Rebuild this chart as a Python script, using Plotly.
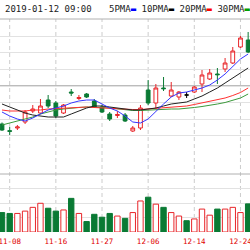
import plotly.graph_objects as go

dates = ["11-07", "11-08", "11-09", "11-12", "11-13", "11-14", "11-15", "11-16",
         "11-19", "11-20", "11-21", "11-22", "11-23", "11-27", "11-28", "11-29",
         "11-30", "12-03", "12-04", "12-06", "12-07", "12-10", "12-11", "12-12",
         "12-13", "12-14", "12-17", "12-18", "12-19", "12-20", "12-21", "12-24", "12-25"]
opens = [7.60, 6.93, 7.20, 7.80, 8.90, 8.70, 10.00, 9.70, 8.70, 10.80, 10.15, 10.60, 9.90,
         9.30, 8.60, 8.45, 8.50, 6.90, 7.20, 11.00, 9.70, 11.20, 10.40, 10.30, 10.50, 10.80,
         11.60, 12.10, 12.60, 13.10, 13.70, 15.30, 16.00]
closes = [7.00, 6.87, 7.30, 8.80, 9.10, 9.40, 9.40, 8.40, 9.50, 10.70, 10.25, 10.30, 9.30,
          8.80, 8.10, 8.55, 7.90, 7.20, 9.20, 9.70, 11.20, 11.13, 11.00, 10.80, 10.50, 11.30,
          12.50, 12.70, 12.53, 13.70, 14.90, 16.20, 14.80]
highs = [7.75, 7.30, 7.50, 9.00, 9.50, 10.10, 10.50, 9.90, 9.60, 11.10, 10.50, 10.70, 10.10,
         9.50, 8.80, 8.90, 8.70, 7.40, 9.50, 12.00, 11.60, 12.30, 11.80, 10.90, 10.80, 11.40,
         13.00, 13.10, 13.20, 14.20, 15.30, 16.40, 16.80]
lows = [6.90, 6.50, 7.00, 7.60, 8.70, 8.60, 9.20, 8.20, 8.60, 10.40, 10.00, 10.20, 9.20,
        8.70, 7.90, 8.20, 7.80, 6.80, 7.00, 9.50, 9.20, 10.90, 10.30, 10.00, 10.20, 10.70,
        10.80, 12.00, 11.60, 12.80, 13.60, 15.20, 14.70]
ma5 = [8.8, 8.4, 8.1, 7.9, 8.2, 8.6, 9.0, 9.2, 9.4, 9.7, 9.9, 10.0, 10.0, 9.6, 9.2, 8.9, 8.4,
       7.8, 7.7, 8.1, 8.8, 9.6, 10.3, 10.7, 10.8, 11.0, 11.2, 11.5, 12.0, 12.6, 13.3, 14.1, 14.6]
ma10 = [9.6, 9.3, 9.0, 8.7, 8.5, 8.4, 8.3, 8.3, 8.3, 8.6, 8.9, 9.2, 9.4, 9.4, 9.3, 9.2, 9.1,
        9.0, 9.0, 9.1, 9.2, 9.4, 9.6, 9.7, 9.8, 10.1, 10.4, 10.8, 11.2, 11.7, 12.2, 12.7, 13.2]
ma20 = [9.0, 8.9, 8.9, 8.9, 9.0, 9.0, 9.1, 9.15, 9.2, 9.25, 9.3, 9.3, 9.25, 9.2, 9.2, 9.15,
        9.1, 9.05, 9.05, 9.1, 9.15, 9.2, 9.25, 9.3, 9.4, 9.55, 9.7, 9.85, 10.0, 10.2, 10.45,
        10.75, 11.2]
ma30 = [7.5, 7.7, 7.9, 8.1, 8.3, 8.6, 8.8, 9.0, 9.1, 9.2, 9.25, 9.3, 9.3, 9.25, 9.2, 9.1,
        9.0, 8.95, 8.95, 9.0, 9.05, 9.05, 9.1, 9.1, 9.15, 9.25, 9.35, 9.45, 9.6, 9.75, 9.95,
        10.2, 10.6]
volume = [67, 64, 64, 72, 85, 99, 82, 72, 76, 116, 64, 36, 61, 51, 64, 55, 47, 67, 107, 120,
          96, 85, 67, 55, 39, 45, 79, 58, 79, 79, 85, 67, 97]
tick_dates = ["11-08", "11-16", "11-27", "12-06", "12-14", "12-24"]
price_grid = [16.4, 14.74, 13.08, 9.76, 8.1, 6.44]
vol_grid = [50, 100, 150]

RED = "#e8262a"
GREEN = "#0a7a34"
MONO = "DejaVu Sans Mono"

n = len(dates)
doji = [i for i in range(n) if opens[i] == closes[i]]
main_o = [None if i in doji else opens[i] for i in range(n)]
main_c = [None if i in doji else closes[i] for i in range(n)]
main_h = [None if i in doji else highs[i] for i in range(n)]
main_l = [None if i in doji else lows[i] for i in range(n)]

up = [c > o for o, c in zip(opens, closes)]
bar_fill = ["white" if u else GREEN for u in up]
bar_line = [RED if u else GREEN for u in up]

fig = go.Figure()
fig.add_trace(go.Bar(x=dates, y=volume, yaxis="y2",
                     marker=dict(color=bar_fill, line=dict(color=bar_line, width=1)),
                     hoverinfo="skip"))
fig.add_trace(go.Candlestick(x=dates, open=main_o, high=main_h, low=main_l, close=main_c,
                             increasing=dict(line=dict(color=RED, width=1), fillcolor="white"),
                             decreasing=dict(line=dict(color=GREEN, width=1), fillcolor=GREEN),
                             whiskerwidth=0))
fig.add_trace(go.Candlestick(x=[dates[i] for i in doji], open=[opens[i] for i in doji],
                             high=[highs[i] for i in doji], low=[lows[i] for i in doji],
                             close=[closes[i] for i in doji],
                             increasing=dict(line=dict(color="black", width=1), fillcolor="black"),
                             decreasing=dict(line=dict(color="black", width=1), fillcolor="black")))
for vals, col in [(ma30, "#3c9a3c"), (ma20, "#ff3030"), (ma10, "#222222"), (ma5, "#3535ff")]:
    fig.add_trace(go.Scatter(x=dates, y=vals, mode="lines",
                             line=dict(color=col, width=1), hoverinfo="skip"))

shapes = []
for t in tick_dates:
    xi = dates.index(t)
    shapes.append(dict(type="line", xref="x", yref="paper", x0=xi, x1=xi, y0=0, y1=1,
                       line=dict(color="#cccccc", width=1, dash="4px,3px"), layer="below"))
shapes.append(dict(type="line", xref="paper", yref="paper", x0=0, x1=1, y0=1, y1=1,
                   line=dict(color="#b0b0b0", width=1), layer="below"))
shapes.append(dict(type="line", xref="paper", yref="y", x0=0, x1=1, y0=11.42, y1=11.42,
                   line=dict(color="#a0a0a0", width=1), layer="below"))
shapes.append(dict(type="line", xref="paper", yref="y2", x0=0, x1=1, y0=200, y1=200,
                   line=dict(color="#b0b0b0", width=1), layer="below"))

legend_html = ("5PMA<span style='color:#0000ff'>▬</span> "
               "10PMA<span style='color:#000000'>▬</span> "
               "20PMA<span style='color:#ff0000'>▬</span> "
               "30PMA<span style='color:#00a000'>▬</span>")

fig.update_layout(
    width=250, height=250,
    margin=dict(l=0, r=0, t=19, b=18),
    paper_bgcolor="white", plot_bgcolor="white",
    showlegend=False, bargap=0.3,
    shapes=shapes,
    annotations=[
        dict(text="2019-01-12 09:00", xref="paper", yref="paper", x=3 / 250, y=1.045,
             xanchor="left", yanchor="middle", showarrow=False,
             font=dict(family=MONO, size=9, color="#222222")),
        dict(text=legend_html, xref="paper", yref="paper", x=107 / 250, y=1.045,
             xanchor="left", yanchor="middle", showarrow=False,
             font=dict(family=MONO, size=9, color="#222222")),
    ],
    xaxis=dict(type="category", categoryorder="array", categoryarray=dates,
               range=[-0.26, 32.24], tickvals=tick_dates, ticktext=tick_dates,
               showgrid=False, zeroline=False, showline=False, ticks="",
               ticklabelstandoff=3,
               tickfont=dict(family=MONO, size=7.5, color="#e00000"),
               rangeslider=dict(visible=False), automargin=False, fixedrange=True),
    yaxis=dict(range=[-3.2, 18.1], tickvals=price_grid, showticklabels=False,
               gridcolor="#e2e2e2", zeroline=False, showline=False, ticks="",
               automargin=False, fixedrange=True),
    yaxis2=dict(overlaying="y", range=[0, 734.5], tickvals=vol_grid, showticklabels=False,
                gridcolor="#e2e2e2", zeroline=False, showline=False, ticks="",
                automargin=False, fixedrange=True),
)

fig.write_html("out.html")
